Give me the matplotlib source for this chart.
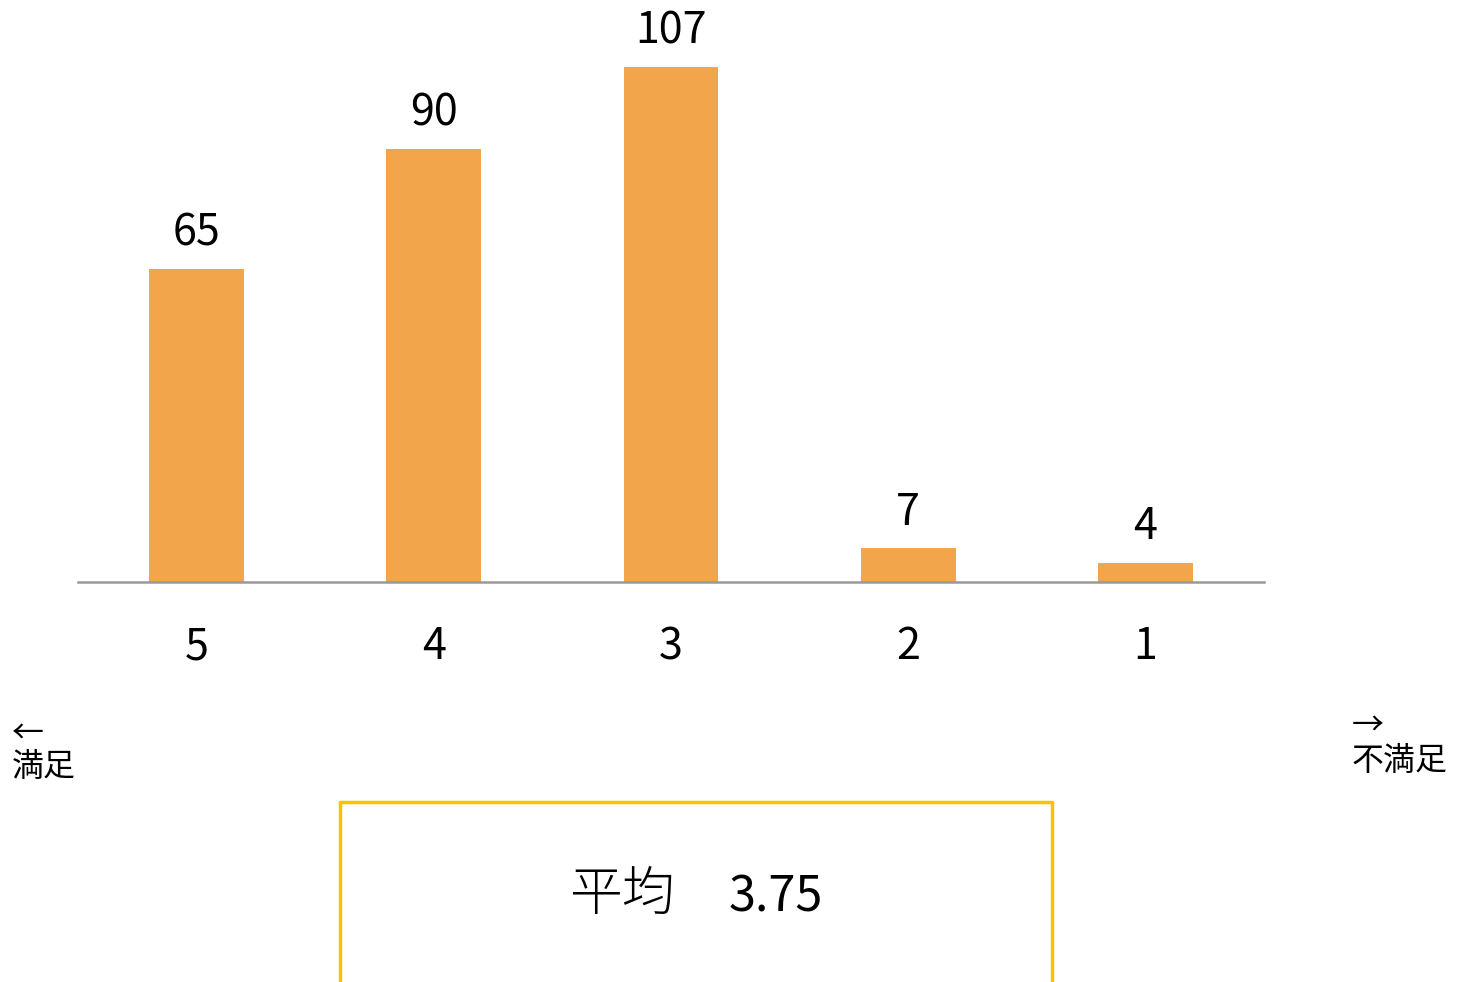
import matplotlib.pyplot as plt
from matplotlib.lines import Line2D

plt.rcParams['font.family'] = ['Noto Sans CJK JP', 'DejaVu Sans']

# data
categories = ['5', '4', '3', '2', '1']
counts = [65, 90, 107, 7, 4]
average = 3.75

W, H = 1461, 982
fig = plt.figure(figsize=(W / 100, H / 100), dpi=100)

# axes placed in pixel terms: baseline at y=582, x from 78 to 1264
ax = fig.add_axes([78 / W, (H - 582) / H, (1264 - 78) / W, 582 / H])
x = list(range(len(categories)))
bars = ax.bar(x, counts, width=0.4, color='#F2A54A', zorder=2)
ax.set_xlim(-0.5, len(categories) - 0.5)
ax.set_ylim(0, 582 / 4.815)

for b, v in zip(bars, counts):
    ax.text(b.get_x() + b.get_width() / 2, v + 2.8, str(v),
            ha='center', va='bottom', fontsize=31, color='black')

for s in ['top', 'right', 'left']:
    ax.spines[s].set_visible(False)
ax.spines['bottom'].set_color('#999999')
ax.spines['bottom'].set_linewidth(1.8)
ax.set_yticks([])
ax.set_xticks(x)
ax.set_xticklabels(categories, fontsize=31)
ax.tick_params(axis='x', length=0, pad=31)

# direction notes
fig.text(12 / W, 1 - 718 / H, '←', ha='left', va='top', fontsize=23)
fig.text(12 / W, 1 - 767 / H, '満足', ha='left', va='center', fontsize=23)
fig.text(1352 / W, 1 - 710 / H, '→', ha='left', va='top', fontsize=23)
fig.text(1352 / W, 1 - 761 / H, '不満足', ha='left', va='center', fontsize=23)

# average box (open at the bottom)
yel = '#FFC000'
x0, x1, ytop = 340 / W, 1052 / W, 1 - 802 / H
fig.add_artist(Line2D([x0, x0, x1, x1], [0, ytop, ytop, 0], color=yel,
                      lw=2.5, transform=fig.transFigure))
fig.text(622 / W, 1 - 895 / H, '平均', ha='center', va='center', fontsize=38,
         fontweight='light')
fig.text(776 / W, 1 - 898 / H, '3.75', ha='center', va='center', fontsize=35)

fig.savefig('out.png', dpi=100)
